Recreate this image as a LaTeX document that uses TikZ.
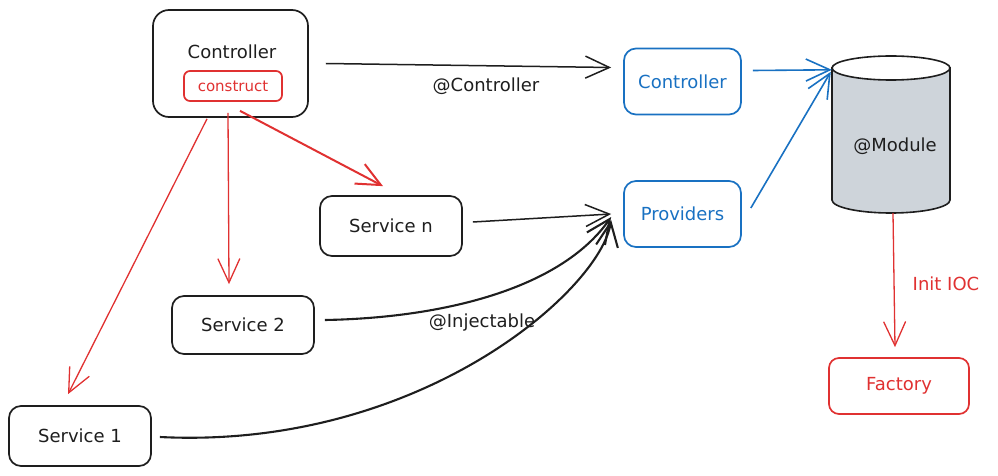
\documentclass[tikz,border=0pt]{standalone}
\usepackage{fontspec}
\setmainfont{DejaVu Sans}
\usetikzlibrary{arrows.meta,calc}
\definecolor{ink}{HTML}{1E1E1E}
\definecolor{xred}{HTML}{E03131}
\definecolor{xblue}{HTML}{1971C2}
\definecolor{xgray}{HTML}{CED4DA}
\begin{document}
\begin{tikzpicture}[x=1pt,y=-1pt,
  txt/.style={font=\fontsize{18}{21}\selectfont},
  box/.style={draw=ink, line width=1.7pt, rounded corners=12pt, txt, text=ink, inner sep=0pt},
  bbox/.style={draw=xblue, line width=1.7pt, rounded corners=12pt, txt, text=xblue, inner sep=0pt, minimum width=117pt, minimum height=66pt},
  rbox/.style={draw=xred, line width=1.7pt, rounded corners=10pt, txt, text=xred, inner sep=0pt},
  tip/.style={-{Straight Barb[length=24pt,width=22pt]}},
  karrow/.style={tip, draw=ink, line width=1.5pt},
  barrow/.style={tip, draw=xblue, line width=1.6pt},
  rarrow/.style={tip, draw=xred, line width=1.3pt},
]
\useasboundingbox (0,0) rectangle (998,476);

% nodes
\node[box, minimum width=155pt, minimum height=107pt, rounded corners=16pt] (ctrl) at (230.5,63.5) {};
\node[txt, text=ink] (ctrllabel) at (232,52) {Controller};
\node[rbox, minimum width=98pt, minimum height=30pt, rounded corners=6pt, font=\fontsize{15}{18}\selectfont] (cons) at (233,86) {construct};
\node[bbox] (ctrlB) at (682.5,81.5) {Controller};
\node[bbox] (prov) at (682.5,214) {Providers};
\node[box, minimum width=142pt, minimum height=60pt] (sn) at (391,226) {Service n};
\node[box, minimum width=142pt, minimum height=58pt] (s2) at (243,325) {Service 2};
\node[box, minimum width=142pt, minimum height=60pt] (s1) at (80,436) {Service 1};
\node[rbox, minimum width=140pt, minimum height=56pt] (fac) at (899,386) {Factory};

% cylinder
\filldraw[fill=xgray, draw=ink, line width=1.6pt] (832,68) -- (832,200) arc[start angle=180, end angle=360, x radius=59pt, y radius=13pt] -- (950,68) -- cycle;
\filldraw[fill=white, draw=ink, line width=1.6pt] (891,68) ellipse [x radius=59pt, y radius=12pt];
\node[minimum width=118pt, minimum height=145pt, inner sep=0pt] (module) at (891,140.5) {};
\node[txt, text=ink] (modlabel) at (895,146) {@Module};

% connectors
\draw[karrow] ($(ctrl.east)+(17,0)$) -- ($(ctrlB.west)+(-12,-14)$);
\node[txt, text=ink] (lblctrl) at (486,86) {@Controller};

\draw[barrow] ($(ctrlB.east)+(11,-11)$) -- ($(module.north west)+(0,2)$);
\draw[barrow] ($(prov.east)+(9,-6)$) -- ($(module.north west)+(-1,4)$);

\draw[karrow] ($(sn.east)+(10,-4)$) -- ($(prov.west)+(-12,0)$);
\draw[karrow, line width=2.1pt] ($(s2.east)+(10,-5)$) .. controls (440,318) and (560,290) .. ($(prov.west)+(-12,3)$);
\node[txt, text=ink] (lblinj) at (482,323) {@Injectable};
\draw[karrow, line width=2.1pt] ($(s1.east)+(8,1)$) .. controls (420,450) and (600,290) .. ($(prov.west)+(-12,6)$);

\draw[rarrow] ($(cons.south)+(-26,17)$) -- ($(s1.north)+(-12,-11)$);
\draw[rarrow] ($(cons.south)+(-5,11)$) -- ($(s2.north)+(-14,-11)$);
\draw[rarrow, line width=2pt] ($(cons.south)+(7,9)$) -- ($(sn.north)+(-8,-9)$);

\draw[rarrow] ($(module.south)+(2,0)$) -- ($(fac.north)+(-4,-10)$);
\node[txt, text=xred] (lblioc) at (946,284) {Init IOC};
\end{tikzpicture}
\end{document}
